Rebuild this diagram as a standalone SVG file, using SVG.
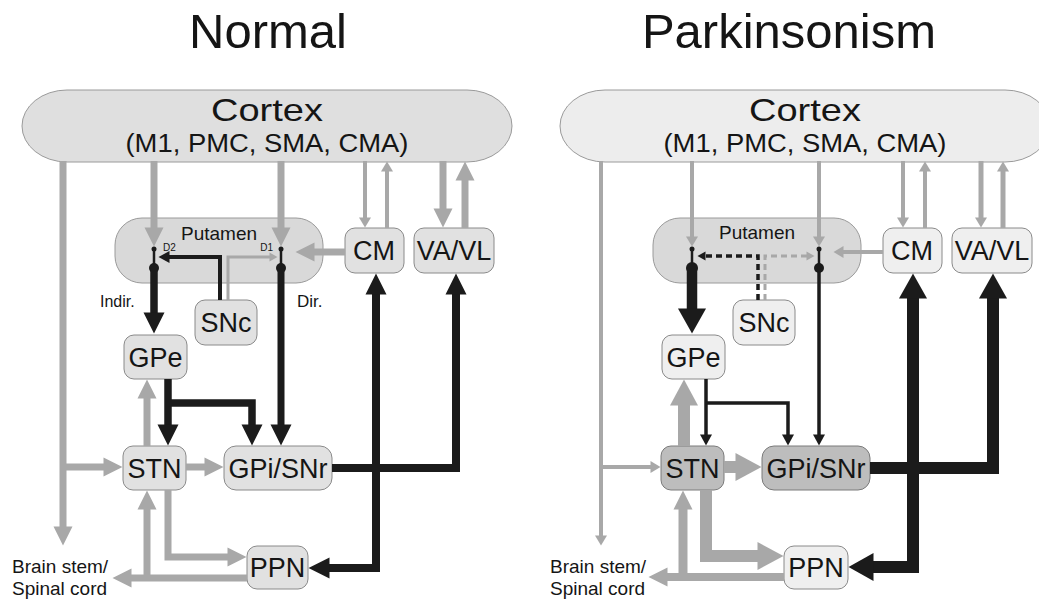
<svg xmlns="http://www.w3.org/2000/svg" width="1039" height="599" viewBox="0 0 1039 599">
<style>
text{font-family:"Liberation Sans",Arial,Helvetica,sans-serif;fill:#151515}
.title{font-size:49px;text-anchor:middle}
.lbl{font-size:27px;text-anchor:middle}
.small{font-size:19px}
.n{fill:#e1e1e1;stroke:#8a8a8a;stroke-width:1}
.nl{fill:#efefef;stroke:#8a8a8a;stroke-width:1}
.nd{fill:#bdbdbd;stroke:#7a7a7a;stroke-width:1}
.put{fill:#d9d9d9;stroke:#9a9a9a;stroke-width:1}
.g{fill:none;stroke:#a8a8a8;stroke-linejoin:miter}
.k{fill:none;stroke:#1b1b1b;stroke-linejoin:miter}
.dash{stroke-dasharray:6 4}
</style>
<defs>
<marker id="gXS" markerUnits="userSpaceOnUse" markerWidth="9" markerHeight="10" refX="0.5" refY="4.5" orient="auto" overflow="visible"><path d="M0,0 L8,4.5 L0,9z" fill="#a8a8a8"/></marker>
<marker id="gS" markerUnits="userSpaceOnUse" markerWidth="11" markerHeight="12" refX="0.5" refY="6" orient="auto" overflow="visible"><path d="M0,0 L10,6 L0,12z" fill="#a8a8a8"/></marker>
<marker id="gM" markerUnits="userSpaceOnUse" markerWidth="20" markerHeight="20" refX="0.5" refY="9.5" orient="auto" overflow="visible"><path d="M0,0 L19,9.5 L0,19z" fill="#a8a8a8"/></marker>
<marker id="gL" markerUnits="userSpaceOnUse" markerWidth="27" markerHeight="28" refX="0.5" refY="14" orient="auto" overflow="visible"><path d="M0,0 L26,14 L0,28z" fill="#a8a8a8"/></marker>
<marker id="kXS" markerUnits="userSpaceOnUse" markerWidth="9" markerHeight="10" refX="0.5" refY="4.5" orient="auto" overflow="visible"><path d="M0,0 L8,4.5 L0,9z" fill="#1b1b1b"/></marker>
<marker id="kS" markerUnits="userSpaceOnUse" markerWidth="12" markerHeight="12" refX="0.5" refY="6" orient="auto" overflow="visible"><path d="M0,0 L11,6 L0,12z" fill="#1b1b1b"/></marker>
<marker id="kM" markerUnits="userSpaceOnUse" markerWidth="22" markerHeight="21" refX="0.5" refY="10.5" orient="auto-start-reverse" overflow="visible"><path d="M0,0 L21,10.5 L0,21z" fill="#1b1b1b"/></marker>
<marker id="kL" markerUnits="userSpaceOnUse" markerWidth="26" markerHeight="28" refX="0.5" refY="14" orient="auto-start-reverse" overflow="visible"><path d="M0,0 L25,14 L0,28z" fill="#1b1b1b"/></marker>
</defs>

<text class="title" x="268" y="48">Normal</text>
<text class="title" x="789" y="48">Parkinsonism</text>

<!-- LEFT PANEL NODES -->
<g id="cortex-normal">
<rect x="22" y="90" width="490" height="72" rx="45" ry="36" fill="#dfdfdf" stroke="#9a9a9a" stroke-width="1"/>
<text x="267" y="121" font-size="32" text-anchor="middle" textLength="112" lengthAdjust="spacingAndGlyphs">Cortex</text>
<text x="267" y="152" font-size="25" text-anchor="middle" textLength="283" lengthAdjust="spacingAndGlyphs">(M1, PMC, SMA, CMA)</text>
</g>
<g id="putamen-normal">
<rect class="put" x="115" y="218" width="208" height="65" rx="27" ry="27"/>
<text x="219" y="240" font-size="19" text-anchor="middle">Putamen</text>
<text x="163" y="251" font-size="10">D2</text>
<text x="273" y="251" font-size="10" text-anchor="end">D1</text>
</g>
<g id="cm-normal"><rect class="n" x="345" y="228" width="59" height="45" rx="10"/><text class="lbl" x="374" y="260">CM</text></g>
<g id="vavl-normal"><rect class="n" x="414" y="228" width="80" height="45" rx="10"/><text class="lbl" x="454" y="260">VA/VL</text></g>
<g id="snc-normal"><rect class="n" x="195" y="300" width="62" height="45" rx="10"/><text class="lbl" x="226" y="332">SNc</text></g>
<g id="gpe-normal"><rect class="n" x="124" y="335" width="63" height="44" rx="10"/><text class="lbl" x="155.5" y="366.5">GPe</text></g>
<g id="stn-normal"><rect class="n" x="123" y="446" width="63" height="44" rx="10"/><text class="lbl" x="154.5" y="477.5">STN</text></g>
<g id="gpi-normal"><rect class="n" x="224" y="446" width="108" height="44" rx="12"/><text class="lbl" x="278" y="477.5">GPi/SNr</text></g>
<g id="ppn-normal"><rect class="n" x="247" y="546" width="61" height="43" rx="10"/><text class="lbl" x="277.5" y="577">PPN</text></g>
<g id="labels-normal">
<text x="100" y="307" font-size="16">Indir.</text>
<text x="297" y="307" font-size="17">Dir.</text>
<text class="small" x="12" y="573">Brain stem/</text>
<text class="small" x="12" y="595">Spinal cord</text>
</g>

<!-- RIGHT PANEL NODES -->
<g id="cortex-park">
<rect x="560" y="90" width="490" height="72" rx="45" ry="36" fill="#ededed" stroke="#9a9a9a" stroke-width="1"/>
<text x="805" y="121" font-size="32" text-anchor="middle" textLength="112" lengthAdjust="spacingAndGlyphs">Cortex</text>
<text x="805" y="152" font-size="25" text-anchor="middle" textLength="283" lengthAdjust="spacingAndGlyphs">(M1, PMC, SMA, CMA)</text>
</g>
<g id="putamen-park">
<rect class="put" x="653" y="218" width="208" height="65" rx="27" ry="27"/>
<text x="757" y="239" font-size="19" text-anchor="middle">Putamen</text>
</g>
<g id="cm-park"><rect class="nl" x="883" y="228" width="59" height="45" rx="10"/><text class="lbl" x="912" y="260">CM</text></g>
<g id="vavl-park"><rect class="nl" x="952" y="228" width="80" height="45" rx="10"/><text class="lbl" x="992" y="260">VA/VL</text></g>
<g id="snc-park"><rect class="nl" x="733" y="300" width="62" height="45" rx="10"/><text class="lbl" x="764" y="332">SNc</text></g>
<g id="gpe-park"><rect class="nl" x="662" y="335" width="63" height="44" rx="10"/><text class="lbl" x="693.5" y="366.5">GPe</text></g>
<g id="stn-park"><rect class="nd" x="661" y="446" width="63" height="44" rx="10"/><text class="lbl" x="692.5" y="477.5">STN</text></g>
<g id="gpi-park"><rect class="nd" x="762" y="446" width="108" height="44" rx="12"/><text class="lbl" x="816" y="477.5">GPi/SNr</text></g>
<g id="ppn-park"><rect class="nl" x="784" y="546" width="64" height="43" rx="10"/><text class="lbl" x="816" y="577">PPN</text></g>
<g id="labels-park">
<text class="small" x="550" y="573">Brain stem/</text>
<text class="small" x="550" y="595">Spinal cord</text>
</g>

<!-- CONNECTORS -->
<g id="connectors">
<!-- left gray -->
<path class="g" stroke-width="7" d="M154,161V228" marker-end="url(#gM)"/>
<path class="g" stroke-width="7" d="M281,161V228" marker-end="url(#gM)"/>
<path class="g" stroke-width="7" d="M443,161V209" marker-end="url(#gM)"/>
<path class="g" stroke-width="7" d="M465,228V180" marker-end="url(#gM)"/>
<path class="g" stroke-width="7" d="M345,252H314" marker-end="url(#gM)"/>
<path class="g" stroke-width="7" d="M63,161V527" marker-end="url(#gM)"/>
<path class="g" stroke-width="7" d="M63,467H104" marker-end="url(#gM)"/>
<path class="g" stroke-width="7" d="M147,446V398" marker-end="url(#gM)"/>
<path class="g" stroke-width="7" d="M186,467H205" marker-end="url(#gM)"/>
<path class="g" stroke-width="7" d="M168,490V557H228" marker-end="url(#gM)"/>
<path class="g" stroke-width="7" d="M247,578H131" marker-end="url(#gM)"/>
<path class="g" stroke-width="7" d="M147,578V509" marker-end="url(#gM)"/>
<path class="g" stroke-width="4" d="M365,161V218" marker-end="url(#gS)"/>
<path class="g" stroke-width="4" d="M387,228V171" marker-end="url(#gS)"/>
<path class="g" stroke-width="3" d="M228,300V257H270" marker-end="url(#gXS)"/>
<!-- left black -->
<path class="k" stroke-width="4" d="M220,300V257H169" marker-end="url(#kS)"/>
<path class="k" stroke-width="2.5" d="M154,249V268"/>
<circle cx="154" cy="249" r="2.5" fill="#1b1b1b"/>
<circle cx="154" cy="268" r="5" fill="#1b1b1b"/>
<path class="k" stroke-width="7.5" d="M154,268V313" marker-end="url(#kM)"/>
<path class="k" stroke-width="2.5" d="M281,249V268"/>
<circle cx="281" cy="249" r="2.5" fill="#1b1b1b"/>
<circle cx="281" cy="268" r="5" fill="#1b1b1b"/>
<path class="k" stroke-width="7" d="M281,268V425" marker-end="url(#kM)"/>
<path class="k" stroke-width="7.5" d="M168,379V425" marker-end="url(#kM)"/>
<path class="k" stroke-width="7.5" d="M168,403H252V425" marker-end="url(#kM)"/>
<path class="k" stroke-width="8" d="M332,468H456V294" marker-end="url(#kM)"/>
<path class="k" stroke-width="8" d="M376,294V568H329" marker-start="url(#kM)" marker-end="url(#kM)"/>

<!-- right gray -->
<path class="g" stroke-width="4" d="M692,161V237" marker-end="url(#gS)"/>
<path class="g" stroke-width="4" d="M819,161V237" marker-end="url(#gS)"/>
<path class="g" stroke-width="4" d="M903,161V218" marker-end="url(#gS)"/>
<path class="g" stroke-width="4" d="M925,228V171" marker-end="url(#gS)"/>
<path class="g" stroke-width="5" d="M981,161V218" marker-end="url(#gS)"/>
<path class="g" stroke-width="5" d="M1003,228V171" marker-end="url(#gS)"/>
<path class="g" stroke-width="4" d="M883,252H843" marker-end="url(#gS)"/>
<path class="g" stroke-width="4" d="M601,161V536" marker-end="url(#gS)"/>
<path class="g" stroke-width="4" d="M601,467H651" marker-end="url(#gS)"/>
<path class="g" stroke-width="12" d="M684,446V405" marker-end="url(#gL)"/>
<path class="g" stroke-width="12" d="M724,467H736" marker-end="url(#gL)"/>
<path class="g" stroke-width="12" d="M706,490V556H758" marker-end="url(#gL)"/>
<path class="g" stroke-width="8" d="M784,577H667" marker-end="url(#gM)"/>
<path class="g" stroke-width="9" d="M683,577V509" marker-end="url(#gM)"/>
<path class="g dash" stroke-width="3" d="M765,300V256H807" marker-end="url(#gXS)"/>
<!-- right black -->
<path class="k dash" stroke-width="3.5" d="M758,300V256H705" marker-end="url(#kXS)"/>
<path class="k" stroke-width="2.5" d="M692,249V268"/>
<circle cx="692" cy="249" r="2.5" fill="#1b1b1b"/>
<circle cx="692" cy="268" r="6" fill="#1b1b1b"/>
<path class="k" stroke-width="10.5" d="M692,268V309" marker-end="url(#kL)"/>
<path class="k" stroke-width="2.5" d="M819,249V268"/>
<circle cx="819" cy="249" r="2.5" fill="#1b1b1b"/>
<circle cx="819" cy="268" r="5" fill="#1b1b1b"/>
<path class="k" stroke-width="3.5" d="M819,268V435" marker-end="url(#kS)"/>
<path class="k" stroke-width="3.5" d="M706,379V435" marker-end="url(#kS)"/>
<path class="k" stroke-width="3.5" d="M706,403H788V435" marker-end="url(#kS)"/>
<path class="k" stroke-width="12" d="M870,468H993V298" marker-end="url(#kL)"/>
<path class="k" stroke-width="12" d="M913,298V567H873" marker-start="url(#kL)" marker-end="url(#kL)"/>
</g>
</svg>
